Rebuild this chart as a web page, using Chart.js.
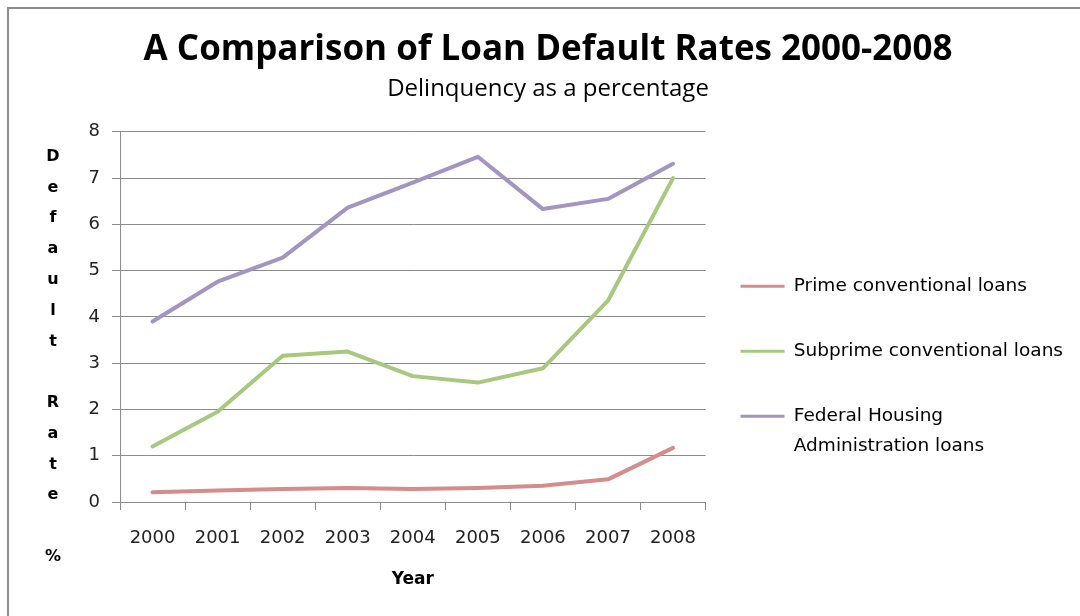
<!DOCTYPE html>
<html>
<head>
<meta charset="utf-8">
<script src="https://cdn.jsdelivr.net/npm/chart.js@4.4.1/dist/chart.umd.min.js"></script>
<style>
  html, body { margin: 0; padding: 0; background: #fff; }
  #wrap { position: relative; width: 1080px; height: 616px; overflow: hidden; }
  #frame { position: absolute; left: 7px; top: 7px; right: -10px; bottom: -10px;
           border-left: 2px solid #8c8c8c; border-top: 2px solid #8c8c8c; }
  canvas { position: absolute; left: 0; top: 0; }
</style>
</head>
<body>
<div id="wrap">
  <div id="frame"></div>
  <canvas id="chart" width="1080" height="616"></canvas>
</div>
<script>
// --- data ---
const years = ['2000', '2001', '2002', '2003', '2004', '2005', '2006', '2007', '2008'];
const primeRates = [0.21, 0.25, 0.28, 0.30, 0.28, 0.30, 0.35, 0.49, 1.17];
const subprimeRates = [1.20, 1.95, 3.16, 3.25, 2.72, 2.58, 2.89, 4.35, 7.00];
const fhaRates = [3.90, 4.76, 5.28, 6.36, 6.90, 7.46, 6.33, 6.55, 7.31];

const seriesNames = ['Prime conventional loans', 'Subprime conventional loans', 'Federal Housing Administration loans'];
const legendLines = [['Prime conventional loans'], ['Subprime conventional loans'], ['Federal Housing', 'Administration loans']];
const seriesColors = ['#d48c8c', '#a8c880', '#a395c2'];
const yTitleLetters = ['D', 'e', 'f', 'a', 'u', 'l', 't', '', 'R', 'a', 't', 'e', '', '%'];

const AXIS_GREY = '#8c8c8c';
const TICK_FONT = { family: 'DejaVu Sans', size: 18 };
const PAD_LEFT = 23;
const PAD_RIGHT = 7;

// y axis title is written one upright letter per line
const stackedYTitle = {
  id: 'stackedYTitle',
  afterDraw(chart) {
    const { ctx, chartArea } = chart;
    ctx.save();
    ctx.font = 'bold 16px "DejaVu Sans"';
    ctx.fillStyle = '#000';
    ctx.textAlign = 'center';
    ctx.textBaseline = 'middle';
    yTitleLetters.forEach((ch, i) => {
      ctx.fillText(ch, chartArea.left - 67, chartArea.top + 25 + i * 30.77);
    });
    ctx.restore();
  }
};

const makeSeries = (label, data, color) => ({
  label,
  data,
  borderColor: color,
  backgroundColor: color,
  borderWidth: 4,
  borderCapStyle: 'round',
  borderJoinStyle: 'round',
  pointRadius: 0,
  tension: 0,
  fill: false
});

new Chart(document.getElementById('chart'), {
  type: 'line',
  data: {
    labels: years,
    datasets: [
      makeSeries(seriesNames[0], primeRates, seriesColors[0]),
      makeSeries(seriesNames[1], subprimeRates, seriesColors[1]),
      makeSeries(seriesNames[2], fhaRates, seriesColors[2])
    ]
  },
  options: {
    responsive: false,
    animation: false,
    layout: { padding: { left: PAD_LEFT, right: PAD_RIGHT, top: 0, bottom: 0 } },
    plugins: {
      title: {
        display: true,
        text: 'A Comparison of Loan Default Rates 2000-2008',
        color: '#000',
        font: { family: 'Open Sans', size: 35, weight: 'bold' },
        padding: { top: 29, bottom: 0 }
      },
      subtitle: {
        display: true,
        text: 'Delinquency as a percentage',
        color: '#000',
        font: { family: 'Open Sans', size: 24 },
        padding: { top: 4, bottom: 28 }
      },
      legend: {
        position: 'right',
        align: 'end',
        fullSize: false,
        maxWidth: 500,
        labels: {
          boxWidth: 44,
          boxHeight: 3,
          padding: 35,
          color: '#000',
          font: { family: 'DejaVu Sans', size: 18.5, lineHeight: '30px' },
          generateLabels(chart) {
            return chart.data.datasets.map((ds, i) => ({
              text: legendLines[i],
              fillStyle: ds.borderColor,
              strokeStyle: ds.borderColor,
              lineWidth: 0,
              hidden: false,
              datasetIndex: i,
              fontColor: '#000'
            }));
          }
        }
      },
      tooltip: { enabled: false }
    },
    scales: {
      x: {
        offset: true,
        grid: { offset: true, drawOnChartArea: false, drawTicks: true, tickLength: 8, color: AXIS_GREY },
        border: { color: AXIS_GREY, width: 1 },
        ticks: { color: '#222', font: TICK_FONT, padding: 18, maxRotation: 0 },
        title: {
          display: true,
          text: 'Year',
          color: '#000',
          font: { family: 'DejaVu Sans', size: 17, weight: 'bold' },
          padding: { top: 2, bottom: 26 }
        }
      },
      y: {
        min: 0,
        max: 8,
        afterFit(scale) { scale.width = 120 - PAD_LEFT; },
        ticks: { stepSize: 1, color: '#222', font: TICK_FONT, padding: 12 },
        grid: { color: AXIS_GREY, tickLength: 8 },
        border: { color: AXIS_GREY, width: 1 }
      }
    }
  },
  plugins: [stackedYTitle]
});
</script>
</body>
</html>
